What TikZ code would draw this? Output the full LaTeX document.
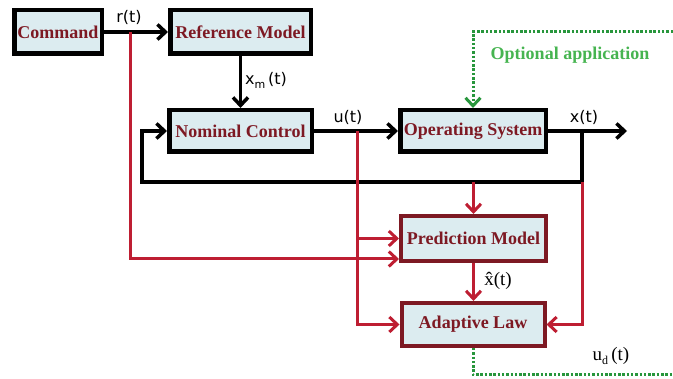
\documentclass[tikz,border=0pt]{standalone}
\usepackage{fontspec}
\setmainfont{Liberation Serif}
\newfontfamily\labsans{DejaVu Sans}
\usetikzlibrary{arrows.meta,calc}
\definecolor{boxfill}{RGB}{220,236,240}
\definecolor{txtred}{RGB}{125,25,35}
\definecolor{linered}{RGB}{190,30,50}
\definecolor{borderred}{RGB}{125,25,35}
\definecolor{dotgreen}{RGB}{40,150,60}
\definecolor{txtgreen}{RGB}{70,180,80}
\begin{document}
\begin{tikzpicture}[x=1pt,y=-1pt,
  blockbox/.style={draw=black, line width=4.5pt, fill=boxfill, inner sep=0pt,
    font=\fontsize{18}{20}\selectfont\bfseries, text=txtred},
  redbox/.style={blockbox, draw=borderred, line width=4pt},
  barb/.style={-{Straight Barb[length=8pt,width=15pt]}},
  blkline/.style={draw=black, line width=3.5pt, line join=miter},
  redline/.style={draw=linered, line width=3pt, line join=miter},
  grnline/.style={draw=dotgreen, line width=3pt, dash pattern=on 2.5pt off 1.8pt},
  sig/.style={font=\labsans\fontsize{16}{18}\selectfont, inner sep=0pt},
  serlab/.style={font=\fontsize{19}{21}\selectfont, inner sep=0pt}
]
\useasboundingbox (0,0) rectangle (673,379);

% blocks
\node[blockbox, minimum width=87.5pt, minimum height=43.5pt] (cmd) at (58,32) {Command};
\node[blockbox, minimum width=140.5pt, minimum height=43.5pt] (ref) at (240.5,32) {Reference Model};
\node[blockbox, minimum width=142.5pt, minimum height=41.5pt] (nom) at (240.5,131) {Nominal Control};
\node[blockbox, minimum width=145.5pt, minimum height=41.5pt] (ops) at (473,131) {Operating System};
\node[redbox, minimum width=145pt, minimum height=45pt] (pred) at (473.5,238.5) {Prediction Model};
\node[redbox, minimum width=143pt, minimum height=43pt] (adapt) at (473,324.5) {Adaptive Law};

% coordinates
\coordinate (xout) at (627,131);
\coordinate (fbtap) at (582,131);
\coordinate (fbcorner) at (582,182);
\coordinate (fbleft) at (142,182);
\coordinate (rtap) at (130,32);
\coordinate (rtlow) at (130,259);
\coordinate (utap) at (357,131);
\coordinate (gtopR) at (673,32);
\coordinate (gbotR) at (673,375);

% black connectors
\draw[blkline, barb] (cmd.east) -- (ref.west);
\draw[blkline, barb] (ref.south) -- (nom.north);
\draw[blkline, barb] (nom.east) -- (ops.west);
\draw[blkline, barb] (ops.east) -- (xout);
\draw[blkline, barb] (fbtap) |- (fbleft) |- (nom.west);

% red connectors
\draw[redline, barb] (rtap) -- (rtlow) -- (pred.west |- rtlow);
\draw[redline, barb] (utap) |- (adapt.west);
\draw[redline, barb] (utap |- pred.west) -- (pred.west);
\draw[redline, barb] (pred.north |- fbcorner) -- (pred.north);
\draw[redline, barb] (fbcorner) |- (adapt.east);
\draw[redline, barb] (pred.south) -- (pred.south |- adapt.north);

% green dotted connectors
\draw[grnline, barb] (gtopR) -| (ops.north);
\draw[grnline] (adapt.south) |- (gbotR);

% labels
\node[sig] (lr) at (129,17) {r(t)};
\node[sig, anchor=west] (lxm) at (245,80) {x\raisebox{-4pt}{\fontsize{11}{11}\selectfont m}\,(t)};
\node[sig] (lu) at (348,117) {u(t)};
\node[sig] (lx) at (584,117) {x(t)};
\node[serlab] (lxh) at (498,281) {\^{x}(t)};
\node[serlab] (lud) at (611,356) {u\raisebox{-4pt}{\fontsize{12}{12}\selectfont d}\,(t)};
\node[font=\fontsize{18}{20}\selectfont\bfseries, text=txtgreen, inner sep=0pt] (lopt) at (570,55) {Optional application};
\end{tikzpicture}
\end{document}
